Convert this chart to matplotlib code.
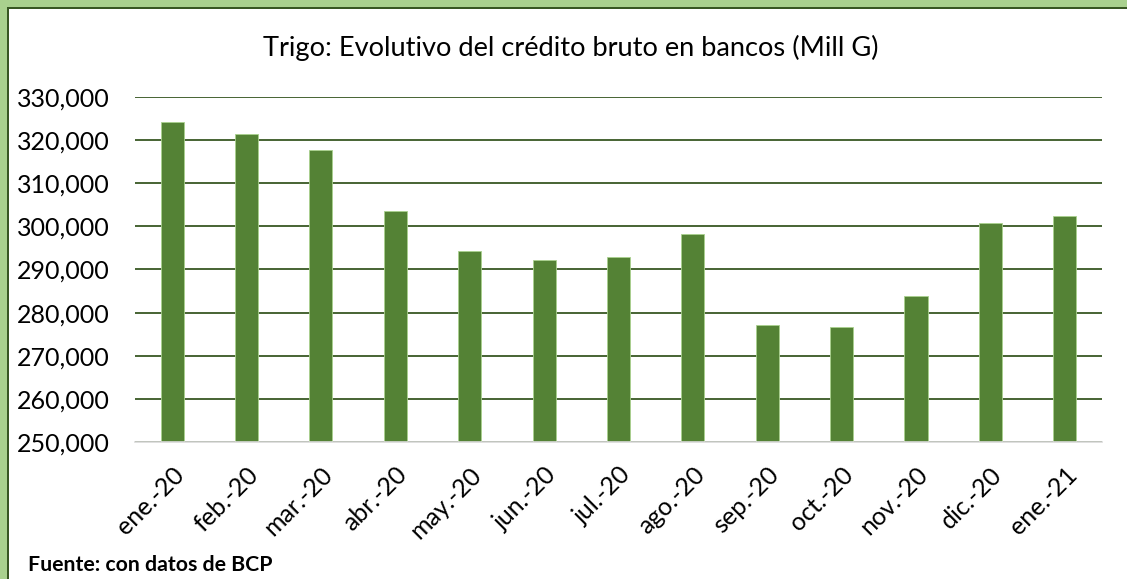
import matplotlib.pyplot as plt
from matplotlib.patches import Rectangle
from matplotlib.ticker import FuncFormatter

meses = ['ene.-20', 'feb.-20', 'mar.-20', 'abr.-20', 'may.-20', 'jun.-20', 'jul.-20',
         'ago.-20', 'sep.-20', 'oct.-20', 'nov.-20', 'dic.-20', 'ene.-21']
credito = [324200, 321450, 317800, 303450, 294270, 292270, 292970,
           298140, 277080, 276700, 283800, 300770, 302480]

plt.rcParams['font.family'] = ['Lato', 'DejaVu Sans']

fig = plt.figure(figsize=(11.27, 5.79), dpi=100)
ax = fig.add_axes([0.1198, 0.2366, 0.8580, 0.5959])

x = range(len(meses))
ax.bar(x, [v - 250000 for v in credito], bottom=250000, width=0.31,
       color='#548235', edgecolor='#A9D18E', linewidth=0.6, zorder=3)

ax.set_ylim(250000, 330000)
ax.set_xlim(-0.5, len(meses) - 0.5)
ax.set_yticks(range(250000, 330001, 10000))
ax.yaxis.set_major_formatter(FuncFormatter(lambda v, p: f'{int(v):,}'))
ax.set_xticks(list(x))
ax.set_xticklabels(meses, rotation=45, ha='right', rotation_mode='anchor')

ax.grid(axis='y', color='#385723', linewidth=1.3, zorder=0)
for s in ['top', 'right', 'left']:
    ax.spines[s].set_visible(False)
ax.spines['bottom'].set_color('#D9D9D9')
ax.spines['bottom'].set_linewidth(1.2)
ax.spines['bottom'].set_zorder(4)
ax.tick_params(axis='both', length=0, labelsize=18, colors='#000000')
ax.tick_params(axis='y', pad=18)
ax.tick_params(axis='x', pad=15)

fig.text(0.506, 0.917, 'Trigo: Evolutivo del crédito bruto en bancos (Mill G)',
         ha='center', va='center', fontsize=19.6)
fig.text(0.025, 0.024, 'Fuente: con datos de BCP', ha='left', va='center',
         fontsize=15.3, fontweight='bold')

# marco verde arriba y a la izquierda
W, H = 1127, 579
fig.add_artist(Rectangle((0, 1 - 7 / H), 1, 7 / H, transform=fig.transFigure,
                         color='#A9D18E', lw=0))
fig.add_artist(Rectangle((0, 0), 7 / W, 1, transform=fig.transFigure,
                         color='#A9D18E', lw=0))
fig.add_artist(Rectangle((7 / W, 1 - 9 / H), 1 - 7 / W, 2 / H, transform=fig.transFigure,
                         color='#385723', lw=0))
fig.add_artist(Rectangle((7 / W, 0), 2 / W, 1 - 7 / H, transform=fig.transFigure,
                         color='#385723', lw=0))

fig.savefig('out.png', dpi=100)
